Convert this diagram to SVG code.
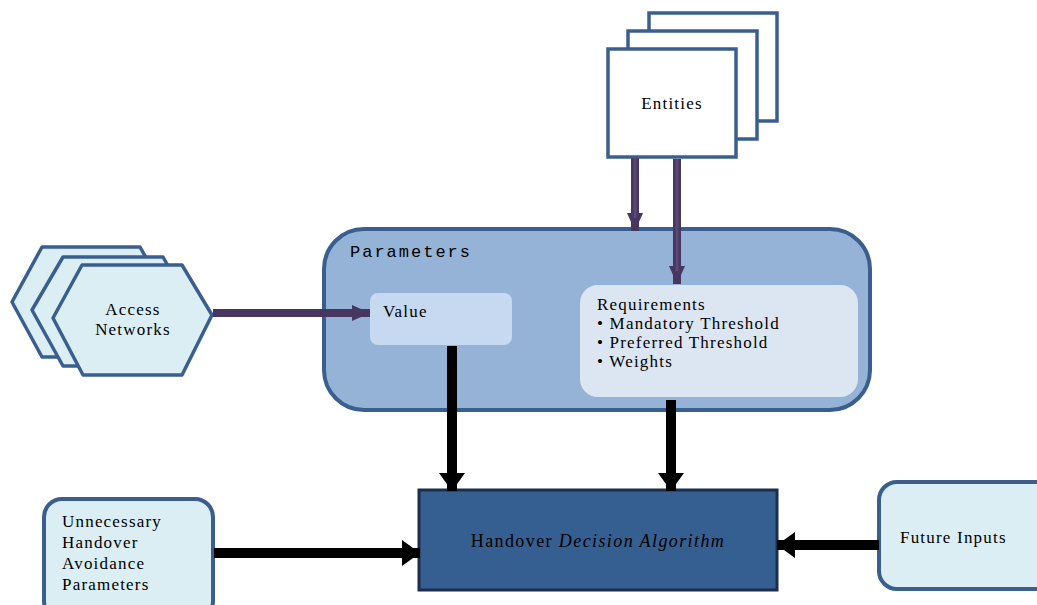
<svg xmlns="http://www.w3.org/2000/svg" width="1037" height="605" viewBox="0 0 1037 605">
  <defs>
    <marker id="headPurple" markerUnits="userSpaceOnUse" markerWidth="20" markerHeight="16" refX="18" refY="8" orient="auto">
      <path d="M0,0 L18,8 L0,16 Z" fill="#47365f"/>
    </marker>
    <marker id="headBlack" markerUnits="userSpaceOnUse" markerWidth="22" markerHeight="26" refX="18" refY="13" orient="auto">
      <path d="M0,0 L18,13 L0,26 Z" fill="#000"/>
    </marker>
    <style>
      .serif { font-family: "Liberation Serif", "Times New Roman", serif; font-size: 17px; letter-spacing: 1.2px; fill: #000; }
      .mono { font-family: "Liberation Mono", "Courier New", monospace; font-size: 17px; letter-spacing: 2px; fill: #000; }
      .page { fill: #ffffff; stroke: #3a5f8f; stroke-width: 3.5; }
      .hex { fill: #dbeef4; stroke: #3a5f8f; stroke-width: 3.5; stroke-linejoin: round; }
      .light { fill: #dbeef4; stroke: #3a5f8f; stroke-width: 4; }
      .purple { stroke: #47365f; stroke-width: 8; fill: none; marker-end: url(#headPurple); }
      .purple-core { stroke: #5a4878; stroke-width: 3; fill: none; }
      .black { stroke: #000; stroke-width: 10; fill: none; marker-end: url(#headBlack); }
    </style>
  </defs>

  <rect width="1037" height="605" fill="#ffffff"/>

  <!-- Parameters container -->
  <g id="parameters">
    <rect x="324" y="229" width="546" height="181" rx="40" fill="#95b3d7" stroke="#3a5f8f" stroke-width="4"/>
    <text class="mono" x="350" y="257">Parameters</text>
  </g>

  <g id="value">
    <rect x="370" y="293" width="142" height="52" rx="8" fill="#c6d9f1"/>
    <text class="serif" x="383" y="317">Value</text>
  </g>

  <g id="requirements">
    <rect x="580" y="285" width="278" height="112" rx="18" fill="#dce6f2"/>
    <text class="serif" x="597" y="310">Requirements</text>
    <text class="serif" x="597" y="329">• Mandatory Threshold</text>
    <text class="serif" x="597" y="348">• Preferred Threshold</text>
    <text class="serif" x="597" y="367">• Weights</text>
  </g>

  <!-- Entities: stacked pages -->
  <g id="entities">
    <rect class="page" x="649" y="13" width="128" height="108"/>
    <rect class="page" x="628" y="31" width="129" height="108"/>
    <rect class="page" x="608" y="49" width="128" height="108"/>
    <text class="serif" x="672" y="109" text-anchor="middle">Entities</text>
  </g>

  <!-- Access networks: stacked hexagons -->
  <g id="access-networks">
    <polygon class="hex" points="12,302 42,247 140,247 170,300 140,357 42,357"/>
    <polygon class="hex" points="32,310 63,257 163,257 192,308 163,366 63,366"/>
    <polygon class="hex" points="53,318 82,265 182,265 212,315 182,375 83,375"/>
    <text class="serif" x="133" y="315" text-anchor="middle">Access</text>
    <text class="serif" x="133" y="335" text-anchor="middle">Networks</text>
  </g>

  <g id="handover-decision">
    <rect x="419" y="490" width="358" height="100" fill="#365f91" stroke="#1b2f4d" stroke-width="3"/>
    <text class="serif" x="598" y="547" text-anchor="middle" style="font-size:18px;letter-spacing:1.4px">Handover <tspan font-style="italic">Decision Algorithm</tspan></text>
  </g>

  <g id="unnecessary-handover">
    <rect class="light" x="44" y="499" width="169" height="120" rx="18"/>
    <text class="serif" x="62" y="527">Unnecessary</text>
    <text class="serif" x="62" y="548">Handover</text>
    <text class="serif" x="62" y="569">Avoidance</text>
    <text class="serif" x="62" y="590">Parameters</text>
  </g>

  <g id="future-inputs">
    <rect class="light" x="879" y="482" width="180" height="107" rx="18"/>
    <text class="serif" x="900" y="543">Future Inputs</text>
  </g>

  <!-- Connectors -->
  <g id="connectors">
    <line class="purple" x1="635" y1="158" x2="635" y2="231"/>
    <line class="purple-core" x1="635" y1="158" x2="635" y2="218"/>
    <line class="purple" x1="677" y1="159" x2="677" y2="284"/>
    <line class="purple-core" x1="677" y1="159" x2="677" y2="271"/>
    <line class="purple" x1="213" y1="313" x2="370" y2="313"/>
    <line class="black" x1="452" y1="346" x2="452" y2="491"/>
    <line class="black" x1="671" y1="400" x2="671" y2="491"/>
    <line class="black" x1="214" y1="553" x2="420" y2="553"/>
    <line class="black" x1="879" y1="545" x2="777" y2="545"/>
  </g>
</svg>
